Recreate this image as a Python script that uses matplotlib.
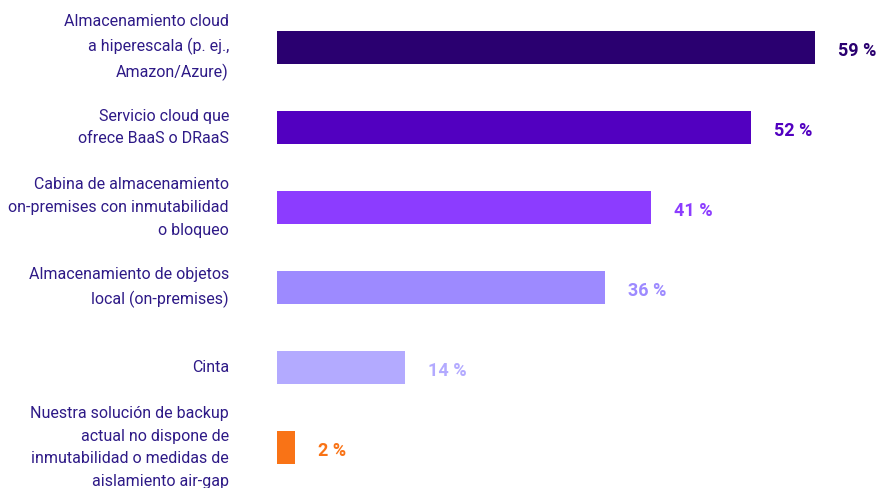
"""Horizontal bar chart: immutable / air-gapped backup storage options."""

import matplotlib
import matplotlib.pyplot as plt

matplotlib.use("Agg")

labels = [
    "Almacenamiento cloud\na hiperescala (p. ej.,\nAmazon/Azure)",
    "Servicio cloud que\nofrece BaaS o DRaaS",
    "Cabina de almacenamiento\non-premises con inmutabilidad\no bloqueo",
    "Almacenamiento de objetos\nlocal (on-premises)",
    "Cinta",
    "Nuestra solución de backup\nactual no dispone de\ninmutabilidad o medidas de\naislamiento air-gap",
]
values = [59, 52, 41, 36, 14, 2]
colors = ["#2A0070", "#5200C0", "#8C3CFF", "#9D8AFF", "#B3AAFF", "#F97316"]
label_color = "#2E1A87"

W, H = 877, 488
fig = plt.figure(figsize=(W / 100, H / 100), dpi=100)
ax = fig.add_axes([277 / W, 0, 1 - 277 / W, 1])

ypos = list(range(len(values)))
ax.barh(ypos, values, height=0.41, color=colors)
ax.set_xlim(0, 59 * 600 / 538)
ax.set_ylim((H - 47.5) / 80, -47.5 / 80)
ax.axis("off")

for y, v, c, lab in zip(ypos, values, colors, labels):
    ax.annotate(f"{v} %", (v, y), xytext=(16.5, -2.5), textcoords="offset points",
                ha="left", va="center", fontsize=13, fontweight="bold",
                color=c, family="Roboto")
    ax.text(-48 / 600, y, lab, transform=ax.get_yaxis_transform(),
            ha="right", va="center", ma="right", fontsize=11.5,
            linespacing=1.66, color=label_color, family="Roboto", clip_on=False)

fig.savefig("out.png", dpi=100)
